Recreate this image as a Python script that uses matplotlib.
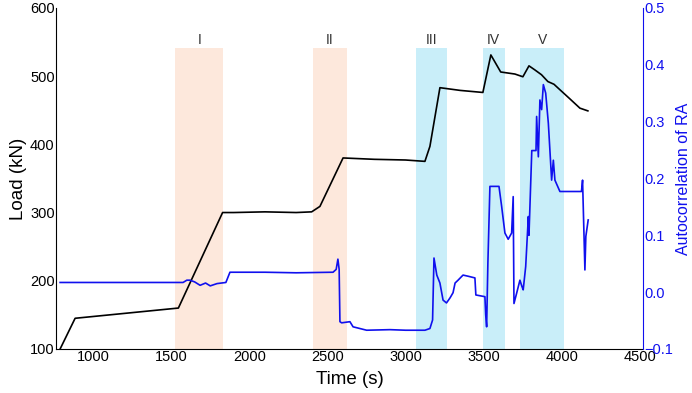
import matplotlib.pyplot as plt

plt.rcParams['font.family'] = ['Liberation Sans', 'DejaVu Sans']

# load curve (time s, load kN)
load_t = [789, 885, 1546, 1829, 1900, 2100, 2300, 2399, 2452, 2600, 2800, 3000, 3124,
          3156, 3220, 3350, 3495, 3546, 3609, 3700, 3751, 3790, 3828, 3870, 3911,
          3950, 3988, 4050, 4116, 4167]
load_v = [100, 145, 160, 300, 300, 301, 300, 301, 309, 380, 378, 377, 375,
          397, 483, 479, 476, 531, 506, 503, 499, 515, 509, 502, 492,
          488, 480, 467, 453, 449]

# autocorrelation of RA
ac_t = [789, 1576, 1600, 1620, 1650, 1685, 1720, 1750, 1793, 1850, 1876, 2100, 2300,
        2536, 2556, 2567, 2575, 2580, 2591, 2644, 2664, 2751, 2900, 3000, 3124,
        3156, 3173, 3182, 3200, 3220, 3240, 3262, 3285, 3304, 3317, 3336, 3368,
        3400, 3444, 3450, 3508, 3513, 3519, 3527, 3540, 3598, 3615, 3636, 3657,
        3679, 3689, 3694, 3711, 3732, 3745, 3753, 3769, 3786, 3790, 3808, 3835,
        3839, 3850, 3860, 3871, 3882, 3897, 3914, 3935, 3946, 3956, 3988, 4126,
        4133, 4148, 4154, 4169]
ac_v = [0.017, 0.017, 0.021, 0.021, 0.018, 0.012, 0.016, 0.011, 0.015, 0.017, 0.035, 0.035, 0.034,
        0.035, 0.040, 0.058, 0.040, -0.052, -0.054, -0.052, -0.061, -0.067, -0.066, -0.067, -0.067,
        -0.064, -0.049, 0.060, 0.030, 0.016, -0.014, -0.019, -0.010, -0.001, 0.016, 0.021, 0.030,
        0.028, 0.025, -0.005, -0.008, -0.040, -0.061, 0.051, 0.186, 0.186, 0.151, 0.104, 0.093,
        0.104, 0.168, -0.020, -0.002, 0.021, 0.010, 0.004, 0.045, 0.133, 0.100, 0.249, 0.249,
        0.309, 0.238, 0.338, 0.321, 0.365, 0.350, 0.297, 0.197, 0.232, 0.197, 0.177, 0.177,
        0.197, 0.039, 0.098, 0.127]

# highlighted stages
stage_names = ['I', 'II', 'III', 'IV', 'V']
stage_start = [1525, 2410, 3067, 3493, 3732]
stage_end = [1834, 2623, 3263, 3636, 4016]
stage_colors = ['#fde8dc', '#fde8dc', '#c9eef9', '#c9eef9', '#c9eef9']

fig = plt.figure(figsize=(6.92, 3.93), dpi=100)
ax = fig.add_axes([0.081, 0.112, 0.848, 0.868])

for name, s, e, c in zip(stage_names, stage_start, stage_end, stage_colors):
    ax.fill_between([s, e], 100, 541, color=c, lw=0, zorder=0)
    ax.text((s + e) / 2, 543, name, ha='center', va='bottom', fontsize=10, color='#333333')

ax.plot(load_t, load_v, color='black', lw=1.2, zorder=3)
ax.set_xlim(763, 4519)
ax.set_ylim(100, 600)
ax.set_xticks(range(1000, 4501, 500))
ax.set_yticks(range(100, 601, 100))
ax.tick_params(length=0, labelsize=10.5, pad=1)
ax.set_xlabel('Time (s)', fontsize=13.5, labelpad=5)
ax.set_ylabel('Load (kN)', fontsize=13.5, labelpad=2)
ax.spines['top'].set_visible(False)
ax.spines['right'].set_visible(False)

ax2 = ax.twinx()
ax2.plot(ac_t, ac_v, color='#1010ee', lw=1.2, zorder=2)
ax2.set_ylim(-0.1, 0.5)
ax2.set_yticks([-0.1, 0.0, 0.1, 0.2, 0.3, 0.4, 0.5])
ax2.tick_params(length=0, labelsize=10.5, pad=1, colors='#1010ee')
ax2.set_ylabel('Autocorrelation of RA', fontsize=11.5, color='#1010ee', labelpad=2)
ax2.spines['right'].set_color('#1010ee')
ax2.spines['top'].set_visible(False)
ax2.spines['left'].set_visible(False)
ax2.spines['bottom'].set_visible(False)

fig.savefig('out.png', dpi=100)
